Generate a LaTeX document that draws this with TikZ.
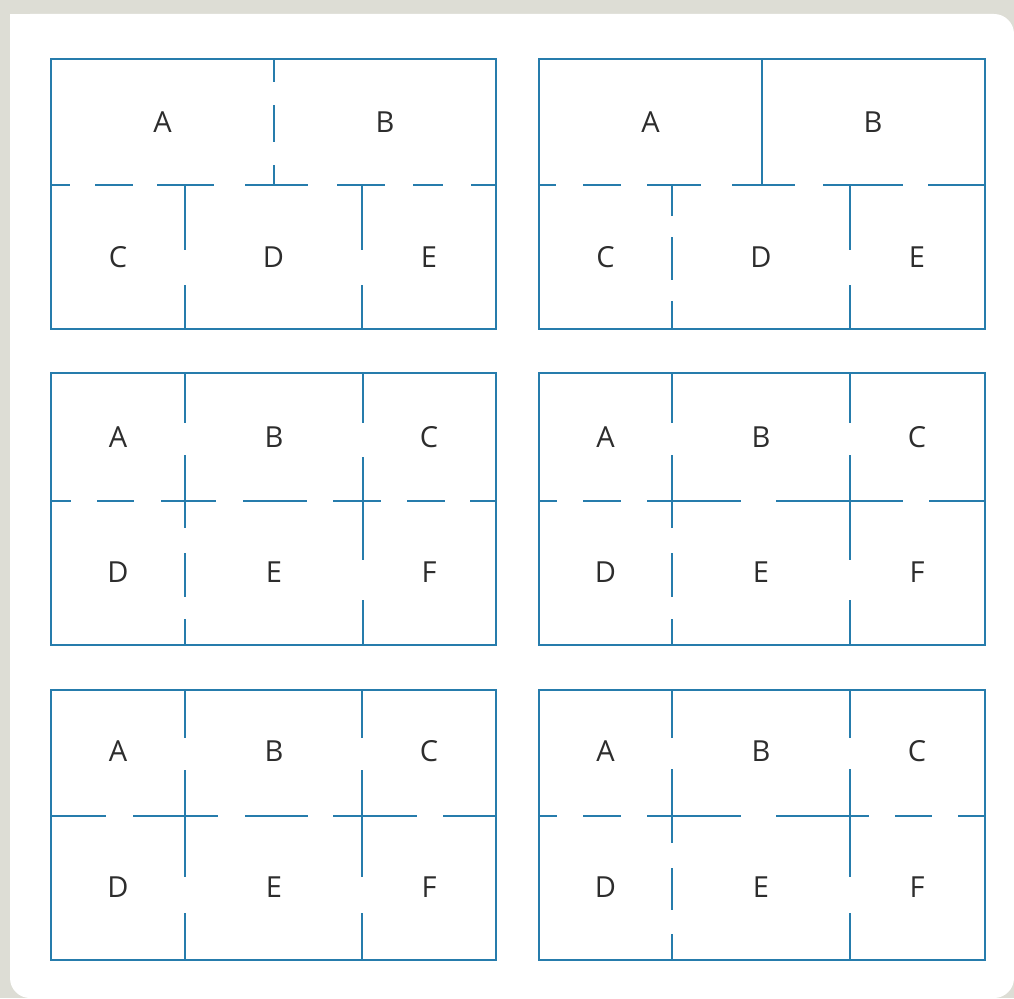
\documentclass[tikz,border=0pt]{standalone}
\usepackage{fontspec}
\setmainfont{Open Sans}
\definecolor{wallblue}{RGB}{38,124,172}
\definecolor{bggray}{RGB}{221,221,213}
\definecolor{labelgray}{RGB}{45,45,45}
\tikzset{
  wall/.style={draw=wallblue, line width=1.8pt, line cap=butt},
  room/.style={font=\fontsize{29}{30}\selectfont, text=labelgray, inner sep=0pt}
}
\newcommand{\hwall}[2]{\foreach \a/\b in {#2} {\draw[wall] (\a,#1) -- (\b,#1);}}
\newcommand{\vwall}[2]{\foreach \a/\b in {#2} {\draw[wall] (#1,\a) -- (#1,\b);}}
\begin{document}
\begin{tikzpicture}[x=1pt,y=-1pt]
\useasboundingbox (0,0) rectangle (1014,998);
\fill[bggray] (0,0) rectangle (1014,998);
\fill[white, rounded corners=20pt] (10,14) rectangle (1014,998);
\fill[white] (10,14) rectangle (50,54);

% Panel 1
\draw[wall] (51,59) rectangle (496,329);
\hwall{185}{51/70,95/133,157/214,245/308,337/385,413/443,471/496}
\vwall{274}{59/82,105/142,165/185}
\vwall{185}{185/250,285/329}
\vwall{362}{185/250,285/329}
\node[room] (p1a) at (162.5,122) {A};
\node[room] (p1b) at (385,122) {B};
\node[room] (p1c) at (118,257) {C};
\node[room] (p1d) at (273.5,257) {D};
\node[room] (p1e) at (429,257) {E};

% Panel 2
\draw[wall] (539,59) rectangle (985,329);
\hwall{185}{539/556,583/621,647/701,732/795,823/903,928/985}
\vwall{762}{59/185}
\vwall{672}{185/216,237/280,301/329}
\vwall{850}{185/250,285/329}
\node[room] (p2a) at (650.5,122) {A};
\node[room] (p2b) at (873,122) {B};
\node[room] (p2c) at (605.5,257) {C};
\node[room] (p2d) at (761,257) {D};
\node[room] (p2e) at (917,257) {E};

% Panel 3
\draw[wall] (51,373) rectangle (496,645);
\hwall{501}{51/71,97/134,161/216,243/307,333/381,407/445,470/496}
\vwall{185}{373/423,455/528,553/597,619/645}
\vwall{363}{373/423,457/560,600/645}
\node[room] (p3a) at (118,437) {A};
\node[room] (p3b) at (274,437) {B};
\node[room] (p3c) at (429,437) {C};
\node[room] (p3d) at (118,572) {D};
\node[room] (p3e) at (274,572) {E};
\node[room] (p3f) at (429,572) {F};

% Panel 4
\draw[wall] (539,373) rectangle (985,645);
\hwall{501}{539/557,583/621,647/741,776/903,929/985}
\vwall{672}{373/423,455/528,553/597,619/645}
\vwall{850}{373/423,455/560,600/645}
\node[room] (p4a) at (605.5,437) {A};
\node[room] (p4b) at (761,437) {B};
\node[room] (p4c) at (917,437) {C};
\node[room] (p4d) at (605.5,572) {D};
\node[room] (p4e) at (761,572) {E};
\node[room] (p4f) at (917,572) {F};

% Panel 5
\draw[wall] (51,690) rectangle (496,960);
\hwall{816}{51/106,133/218,245/308,333/417,443/496}
\vwall{185}{690/738,770/877,913/960}
\vwall{362}{690/738,770/877,913/960}
\node[room] (p5a) at (118,751) {A};
\node[room] (p5b) at (274,751) {B};
\node[room] (p5c) at (429,751) {C};
\node[room] (p5d) at (118,887) {D};
\node[room] (p5e) at (274,887) {E};
\node[room] (p5f) at (429,887) {F};

% Panel 6
\draw[wall] (539,690) rectangle (985,960);
\hwall{816}{539/557,583/621,647/741,776/869,895/932,958/985}
\vwall{672}{690/738,769/843,868/910,934/960}
\vwall{850}{690/738,769/877,913/960}
\node[room] (p6a) at (605.5,751) {A};
\node[room] (p6b) at (761,751) {B};
\node[room] (p6c) at (917,751) {C};
\node[room] (p6d) at (605.5,887) {D};
\node[room] (p6e) at (761,887) {E};
\node[room] (p6f) at (917,887) {F};
\end{tikzpicture}
\end{document}
